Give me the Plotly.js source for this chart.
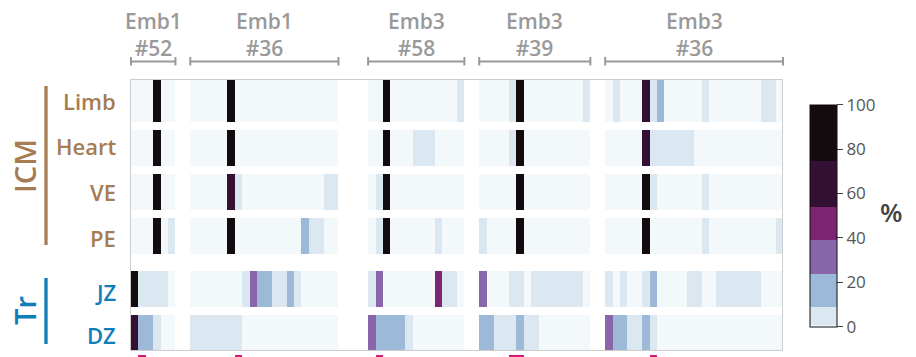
<!DOCTYPE html>
<html><head><meta charset="utf-8">
<script src="https://cdn.plot.ly/plotly-3.0.1.min.js"></script>
<style>html,body{margin:0;padding:0;background:#fff}#chart{width:916px;height:357px}</style>
</head><body><div id="chart"></div>
<script>
// ---- data ----
const embryos   = ['Emb1', 'Emb1', 'Emb3', 'Emb3', 'Emb3'];
const embryoIds = ['#52', '#36', '#58', '#39', '#36'];
const rowNames  = ['Limb', 'Heart', 'VE', 'PE', 'JZ', 'DZ'];
const rowGroups = ['ICM', 'ICM', 'ICM', 'ICM', 'Tr', 'Tr'];

// percentage per column, one sub-array per embryo
const limb = [
  [0,0,0,90,0,0],
  [0,0,0,0,0,90,0,0,0,0,0,0,0,0,0,0,0,0,0,0],
  [0,0,90,0,0,0,0,0,0,0,0,0,5],
  [0,0,0,0,5,90,0,0,0,0,0,0,0,0,5],
  [0,5,0,0,0,65,5,15,0,0,0,0,0,5,0,0,0,0,0,0,0,5,5,0]
];
const heart = [
  [0,0,0,90,0,0],
  [0,0,0,0,0,90,0,0,0,0,0,0,0,0,0,0,0,0,0,0],
  [0,0,90,0,0,0,5,5,5,0,0,0,0],
  [0,0,0,0,5,90,0,0,0,0,0,0,0,0,0],
  [0,0,0,0,0,65,5,5,5,5,5,5,0,0,0,0,0,0,0,0,0,0,0,0]
];
const ve = [
  [0,0,0,90,0,0],
  [0,0,0,0,0,65,5,0,0,0,0,0,0,0,0,0,0,0,5,5],
  [0,5,90,0,0,0,0,0,0,0,0,0,0],
  [0,0,0,0,0,90,0,0,0,0,0,0,0,0,0],
  [0,0,0,0,0,90,5,0,0,0,0,0,0,5,0,0,0,0,0,0,0,0,0,0]
];
const pe = [
  [0,0,0,90,0,5],
  [0,0,0,0,0,90,0,0,0,0,0,0,0,0,0,15,5,5,0,0],
  [0,5,90,0,0,0,0,0,0,5,0,0,0],
  [5,0,0,0,0,90,0,0,0,0,0,0,0,0,0],
  [0,0,0,0,0,90,0,0,0,0,0,0,0,5,0,0,0,0,0,0,0,0,0,5]
];
const jz = [
  [90,5,5,5,5,0],
  [0,0,0,0,0,0,0,5,30,15,15,5,5,15,5,0,0,0,0,0],
  [5,30,0,0,0,0,0,0,0,45,5,5,0],
  [30,0,0,0,5,5,0,5,5,5,5,5,5,5,0],
  [5,0,5,0,0,5,15,0,0,0,0,5,5,0,0,5,5,5,5,5,5,0,0,0]
];
const dz = [
  [65,15,15,5,0,0],
  [5,5,5,5,5,5,5,0,0,0,0,0,0,0,0,0,0,0,0,0],
  [30,15,15,15,15,5,0,0,0,0,0,0,0],
  [15,15,5,5,5,15,5,5,0,0,0,0,0,0,0],
  [30,15,15,5,5,15,5,0,0,0,0,0,0,0,0,0,0,0,0,0,0,0,0,0]
];
// marked columns (index inside each embryo)
const marked = [[1], [6], [1], [4, 5], [6]];

// ---- layout constants ----
const gapBefore = [0, 2, 4, 2, 2];           // empty columns before each embryo
const rowEdges  = [80,122,130,166,174,209.5,218,253.5,271,306.5,315,350];
const labelY    = [100.5, 146, 192, 237.5, 291.5, 334.5];
const bandStops = [0, 1, 9, 24, 39, 54, 75, 100];
const bandColors = ['#f3f8fb','#dbe7f1','#9db9d8','#8966aa','#7b2573','#341134','#130b0e'];
const ICM_COL = '#a67c52', TR_COL = '#0f7db8', HEAD_COL = '#999999';
const FONT = 'Open Sans, sans-serif';
const TOP = 79, BOT = 357, LEFT = 131, W = 652;

const allRows = [limb, heart, ve, pe, jz, dz];
const starts = []; let c = 0;
embryos.forEach((e, g) => { c += gapBefore[g]; starts.push(c); c += limb[g].length; });
const nCols = c;

function expand(row) {
  const out = new Array(nCols).fill(null);
  row.forEach((grp, g) => grp.forEach((v, i) => { out[starts[g] + i] = v; }));
  return out;
}
const z = [];
allRows.forEach((r, k) => {
  z.push(expand(r));
  if (k < allRows.length - 1) z.push(new Array(nCols).fill(null));
});
const xEdges = Array.from({length: nCols + 1}, (_, i) => i);

const cs = [];
bandColors.forEach((col, i) => {
  cs.push([bandStops[i] / 100, col]);
  cs.push([bandStops[i + 1] / 100, col]);
});

const toPaperY = py => (BOT - py) / (BOT - TOP);
const toPaperX = px => (px - LEFT) / W;

const heat = {
  type: 'heatmap', x: xEdges, y: rowEdges, z: z,
  zmin: 0, zmax: 100, colorscale: cs, hoverinfo: 'skip',
  colorbar: {
    x: toPaperX(809.5), xanchor: 'left', xpad: 0, ypad: 0,
    y: toPaperY(215.7), yanchor: 'middle',
    thickness: 27, thicknessmode: 'pixels', len: 222, lenmode: 'pixels',
    outlinewidth: 1, outlinecolor: '#111', borderwidth: 0,
    tickmode: 'array', tickvals: [0, 20, 40, 60, 80, 100],
    ticks: 'outside', ticklen: 6, tickwidth: 1, tickcolor: '#444',
    tickfont: {family: FONT, size: 17, color: '#555'}
  }
};

const mx = [];
marked.forEach((cols, g) => cols.forEach(i => { mx.push(starts[g] + i + 0.5); }));
const marks = {
  type: 'bar', x: mx, y: mx.map(() => 2.5), base: 354.5, width: 1,
  marker: {color: '#d81b72', line: {width: 0}},
  hoverinfo: 'skip', showlegend: false
};

const annotations = [];
const shapes = [];
embryos.forEach((e, g) => {
  const x0 = starts[g] / nCols, x1 = (starts[g] + limb[g].length) / nCols;
  const xm = (x0 + x1) / 2;
  annotations.push({xref: 'paper', yref: 'paper', x: xm, y: toPaperY(34.5),
    text: e + '<br>' + embryoIds[g],
    showarrow: false, xanchor: 'center', yanchor: 'middle',
    font: {family: FONT, size: 21, color: HEAD_COL, weight: 600}});
  const ln = {color: HEAD_COL, width: 2};
  shapes.push({type: 'line', xref: 'paper', yref: 'paper', x0: x0, x1: x1, y0: toPaperY(61.5), y1: toPaperY(61.5), line: ln});
  shapes.push({type: 'line', xref: 'paper', yref: 'paper', x0: x0, x1: x0, y0: toPaperY(57), y1: toPaperY(65.5), line: ln});
  shapes.push({type: 'line', xref: 'paper', yref: 'paper', x0: x1, x1: x1, y0: toPaperY(57), y1: toPaperY(65.5), line: ln});
});

rowNames.forEach((name, k) => {
  annotations.push({xref: 'paper', yref: 'y', x: toPaperX(118), y: labelY[k], text: name,
    showarrow: false, xanchor: 'right', yanchor: 'middle',
    font: {family: FONT, size: 22, weight: 600, color: rowGroups[k] === 'ICM' ? ICM_COL : TR_COL}});
});
annotations.push({xref: 'paper', yref: 'paper', x: toPaperX(24), y: toPaperY(166), text: 'ICM',
  textangle: -90, showarrow: false, xanchor: 'center', yanchor: 'middle',
  font: {family: FONT, size: 29, weight: 600, color: ICM_COL}});
annotations.push({xref: 'paper', yref: 'paper', x: toPaperX(24), y: toPaperY(311), text: 'Tr',
  textangle: -90, showarrow: false, xanchor: 'center', yanchor: 'middle',
  font: {family: FONT, size: 29, weight: 600, color: TR_COL}});
annotations.push({xref: 'paper', yref: 'paper', x: toPaperX(891), y: toPaperY(212), text: '%',
  showarrow: false, xanchor: 'center', yanchor: 'middle',
  font: {family: FONT, size: 26, weight: 600, color: '#444'}});
shapes.push({type: 'line', xref: 'paper', yref: 'paper', x0: toPaperX(46), x1: toPaperX(46),
  y0: toPaperY(86), y1: toPaperY(245), line: {color: ICM_COL, width: 3.3}});
shapes.push({type: 'line', xref: 'paper', yref: 'paper', x0: toPaperX(46), x1: toPaperX(46),
  y0: toPaperY(278), y1: toPaperY(344), line: {color: TR_COL, width: 3.3}});
// plot frame
shapes.push({type: 'rect', xref: 'paper', yref: 'paper', layer: 'above',
  x0: toPaperX(130.5), x1: toPaperX(782.5), y0: toPaperY(350.5), y1: toPaperY(79.5),
  line: {color: '#cccccc', width: 1}, fillcolor: 'rgba(0,0,0,0)'});

const axis = {showgrid: false, zeroline: false, showticklabels: false, ticks: '',
  showline: false, fixedrange: true};
const layout = {
  width: 916, height: 357, autosize: false,
  margin: {l: LEFT, r: 916 - LEFT - W, t: TOP, b: 0, pad: 0},
  paper_bgcolor: '#fff', plot_bgcolor: '#fff',
  xaxis: Object.assign({range: [0, nCols]}, axis),
  yaxis: Object.assign({range: [BOT, TOP]}, axis),
  showlegend: false, bargap: 0,
  annotations: annotations, shapes: shapes
};
Plotly.newPlot('chart', [heat, marks], layout, {staticPlot: true, displayModeBar: false});
</script></body></html>
